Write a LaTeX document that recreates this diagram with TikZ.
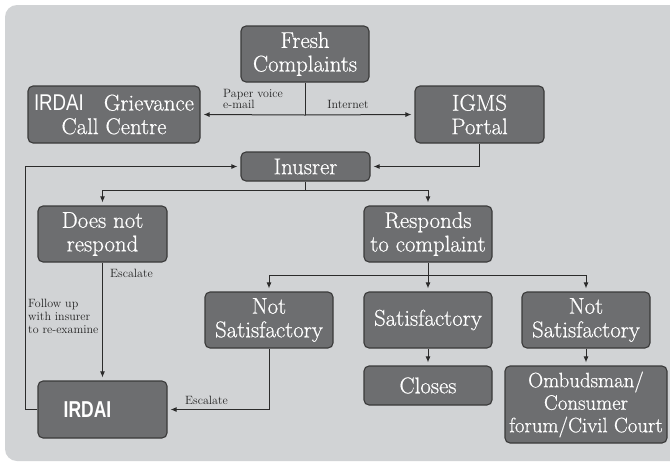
\documentclass[tikz,border=0pt]{standalone}
\usepackage{fontspec}
\setmainfont{Latin Modern Roman}
\newfontfamily\boxfont{Latin Modern Roman}[FakeBold=0.6]
\newfontfamily\sansf{Liberation Sans}
\usetikzlibrary{arrows.meta}
\definecolor{bgc}{HTML}{D1D3D5}
\definecolor{boxc}{HTML}{6D6E70}
\definecolor{edgec}{HTML}{3A3A3A}
\definecolor{linec}{HTML}{2B2B2B}
\definecolor{lblc}{HTML}{222222}
\tikzset{
  box/.style={draw=edgec, line width=1.1pt, fill=boxc, rounded corners=5pt,
    text=white, align=center, inner sep=0pt,
    font=\boxfont\fontsize{22.8}{23.6}\selectfont},
  conn/.style={draw=linec, line width=1pt},
  arr/.style={conn, -{Latex[length=6pt,width=5pt]}, shorten >=3pt},
  lbl/.style={inner sep=0pt, text=lblc, font=\fontsize{12}{13}\selectfont, align=left},
}
\begin{document}
\begin{tikzpicture}[x=1pt,y=-1pt]
\useasboundingbox (0,0) rectangle (670,464);
\begin{scope}
\clip (0,0) rectangle (670,464);
\fill[white] (0,0) rectangle (670,464);
\fill[bgc, rounded corners=12pt] (5,5) rectangle (690,461);
\end{scope}

% nodes
\node[box, minimum width=128pt, minimum height=56pt] (fresh) at (305,54) {Fresh\\Complaints};
\node[box, minimum width=172pt, minimum height=57pt] (griev) at (114,114.5)
  {{\sansf\scalebox{0.82}[1]{IRDAI}}\hspace{20pt}Grievance\\Call Centre};
\node[box, minimum width=129pt, minimum height=57pt] (igms) at (479.5,114.5) {IGMS\\Portal};
\node[box, minimum width=129pt, minimum height=29pt] (ins) at (305.5,166.5) {Inusrer};
\node[box, minimum width=129pt, minimum height=56pt] (dnr) at (102.5,234) {Does not\\respond};
\node[box, minimum width=128pt, minimum height=56pt] (resp) at (428,234) {Responds\\to complaint};
\node[box, minimum width=128pt, minimum height=56pt] (ns1) at (269,320) {Not\\Satisfactory};
\node[box, minimum width=128pt, minimum height=56pt] (sat) at (428,320) {Satisfactory};
\node[box, minimum width=128pt, minimum height=56pt] (ns2) at (586,320) {Not\\Satisfactory};
\node[box, minimum width=128pt, minimum height=39pt] (closes) at (428,385.5) {Closes};
\node[box, minimum width=162pt, minimum height=77pt, font=\boxfont\fontsize{20.8}{22.5}\selectfont] (omb) at (586,404.5)
  {Ombudsman/\\Consumer\\forum/Civil Court};
\node[box, minimum width=129pt, minimum height=57pt] (irdai) at (102.5,409.5)
  {\hspace*{-30pt}{\sansf\bfseries\fontsize{23}{24}\selectfont\scalebox{0.76}[1]{IRDAI}}};

% junctions
\coordinate (j0) at (305,115);
\coordinate (j1) at (305.5,190);
\coordinate (j2) at (428,275);
\coordinate (lp) at (25,0);

% connectors
\draw[conn] (fresh.south) -- (j0);
\draw[arr] (j0) -- (griev.east);
\draw[arr] (j0) -- (igms.west);
\draw[arr] (igms.south) |- (ins.east);
\draw[conn] (ins.south) -- (j1);
\draw[arr] (j1) -| (dnr.north);
\draw[arr] (j1) -| (resp.north);
\draw[conn] (resp.south) -- (j2);
\draw[arr] (j2) -| (ns1.north);
\draw[arr] (j2) -- (sat.north);
\draw[arr] (j2) -| (ns2.north);
\draw[arr] (sat.south) -- (closes.north);
\draw[arr] (ns2.south) -- (omb.north);
\draw[arr] (dnr.south) -- (irdai.north);
\draw[arr] (ns1.south) |- (irdai.east);
\draw[arr] (irdai.west) -- (irdai.west -| lp) |- (ins.west);

% labels
\node[lbl, anchor=base west] (lpaper) at (223,97) {Paper voice};
\node[lbl, anchor=base west] (lmail) at (223,108) {e-mail};
\node[lbl, anchor=base] (lnet) at (348,108) {Internet};
\node[lbl, anchor=base west] (lesc1) at (110,277) {Escalate};
\node[lbl, anchor=base west] (lfol1) at (28,307) {Follow up};
\node[lbl, anchor=base west] (lfol2) at (28,320) {with insurer};
\node[lbl, anchor=base west] (lfol3) at (28,333) {to re-examine};
\node[lbl, anchor=base west] (lesc2) at (185,404) {Escalate};
\end{tikzpicture}
\end{document}
